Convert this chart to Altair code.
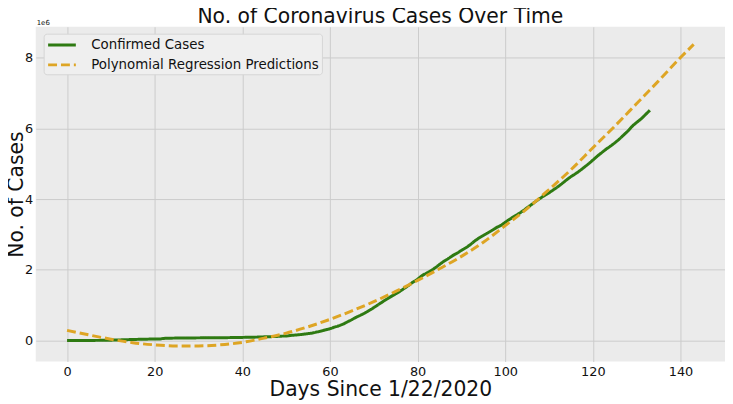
import altair as alt
import pandas as pd

# Confirmed global cases, one value per day since 1/22/2020 (day 0 .. 133)
confirmed = [
    555, 654, 941, 1434, 2118, 2927, 5578, 6166, 8234, 9927,
    12038, 16787, 19887, 23898, 27643, 30802, 34395, 37129, 40160, 42769,
    44811, 45229, 60381, 66909, 69052, 71235, 73270, 75152, 75652, 76212,
    76841, 78602, 78982, 79546, 80399, 81376, 82736, 84120, 86011, 88369,
    90306, 92840, 95120, 97886, 101800, 105836, 109835, 113582, 118582, 125865,
    128343, 145193, 156097, 167449, 181546, 197168, 214915, 242713, 272167, 304528,
    336953, 378235, 418045, 467653, 529591, 593291, 660706, 720117, 782365, 857487,
    932605, 1013466, 1095917, 1176060, 1249754, 1321481, 1396476, 1479804, 1565278, 1657526,
    1735650, 1834721, 1904838, 1976191, 2056054, 2152437, 2240190, 2317758, 2401378, 2472259,
    2549123, 2624074, 2708885, 2811193, 2896746, 2971475, 3041764, 3116398, 3193886, 3256846,
    3343777, 3427584, 3506729, 3583055, 3662691, 3755341, 3845718, 3937876, 4024009, 4101699,
    4177502, 4261747, 4347018, 4442163, 4542347, 4634068, 4713620, 4801943, 4897492, 4996472,
    5102424, 5210817, 5310362, 5407613, 5495061, 5589626, 5691790, 5808946, 5924275, 6059017,
    6166946, 6265852, 6386690, 6508635,
]
confirmed_days = list(range(len(confirmed)))

# Polynomial regression predictions, days 0 .. 143
pred_days = [0, 5, 10, 15, 20, 25, 30, 35, 40, 45, 50, 55, 60, 65, 70, 75, 80, 85, 90, 95,
             100, 105, 110, 115, 120, 125, 130, 135, 140, 143]
pred_values = [290000, 160000, 40000, -60000, -120000, -150000, -150000, -120000, -50000, 70000,
               210000, 390000, 600000, 840000, 1100000, 1390000, 1700000, 2030000, 2380000, 2780000,
               3250000, 3730000, 4270000, 4830000, 5450000, 6060000, 6700000, 7340000, 8000000, 8370000]

series_names = ["Confirmed Cases", "Polynomial Regression Predictions"]
series_colors = ["#2e7a12", "#dea524"]
x_ticks = [0, 20, 40, 60, 80, 100, 120, 140]
y_ticks = [0, 2000000, 4000000, 6000000, 8000000]

df = pd.concat([
    pd.DataFrame({"day": confirmed_days, "cases": confirmed, "series": series_names[0]}),
    pd.DataFrame({"day": pred_days, "cases": pred_values, "series": series_names[1]}),
], ignore_index=True)

FONT = "DejaVu Sans"

legend = alt.Legend(
    title=None, orient="none", legendX=8, legendY=7, direction="vertical",
    symbolType="M-1,0H3", symbolSize=196, symbolStrokeWidth=3,
    labelFont=FONT, labelFontSize=13.5, labelColor="#111111", labelOffset=28, labelLimit=400,
    padding=3, rowPadding=5, fillColor="#efefef", strokeColor="#d6d6d6", cornerRadius=3,
)

lines = alt.Chart(df).mark_line(strokeWidth=3, interpolate="monotone").encode(
    x=alt.X("day:Q",
            scale=alt.Scale(domain=[-7.15, 150.15], nice=False, zero=False),
            axis=alt.Axis(values=x_ticks, title="Days Since 1/22/2020",
                          titleY=34, titleBaseline="alphabetic")),
    y=alt.Y("cases:Q",
            scale=alt.Scale(domain=[-590000, 8870000], nice=False, zero=False),
            axis=alt.Axis(values=y_ticks, labelExpr="datum.value / 1e6", title="No. of Cases",
                          titleX=-13, titleY=169, titleBaseline="alphabetic", titleAngle=270,
                          titleAlign="center")),
    color=alt.Color("series:N", scale=alt.Scale(domain=series_names, range=series_colors),
                    legend=legend),
    strokeDash=alt.StrokeDash("series:N",
                              scale=alt.Scale(domain=series_names, range=[[1, 0], [9, 4]]),
                              legend=legend),
)

offset_text = alt.Chart(pd.DataFrame({"t": ["1e6"]})).mark_text(
    text="1e6", font=FONT, fontSize=7, align="left", baseline="alphabetic", color="#111111"
).encode(x=alt.value(1), y=alt.value(-1.5))

chart = alt.layer(lines, offset_text).properties(
    width=696, height=338,
    autosize=alt.AutoSizeParams(type="none"),
    padding={"left": 28, "top": 17, "right": 0, "bottom": 39},
    title=alt.Title("No. of Coronavirus Cases Over Time", font=FONT, fontSize=20.5,
                    fontWeight="normal", color="#111111", anchor="middle", offset=0, dy=8),
    background="white",
).configure_view(
    fill="#ebebeb", stroke=None
).configure_axis(
    grid=True, gridColor="#cbcbcb", gridWidth=1, domain=False, ticks=False, tickSize=0,
    labelFont=FONT, labelFontSize=13, labelColor="#111111",
    titleFont=FONT, titleFontSize=20.5, titleFontWeight="normal", titleColor="#111111",
).configure_axisX(
    labelPadding=4, labelBaseline="top"
).configure_axisY(
    labelPadding=3, labelAlign="right", labelBaseline="middle"
)

chart.save("out.html", embed_options={"renderer": "svg", "actions": False})
